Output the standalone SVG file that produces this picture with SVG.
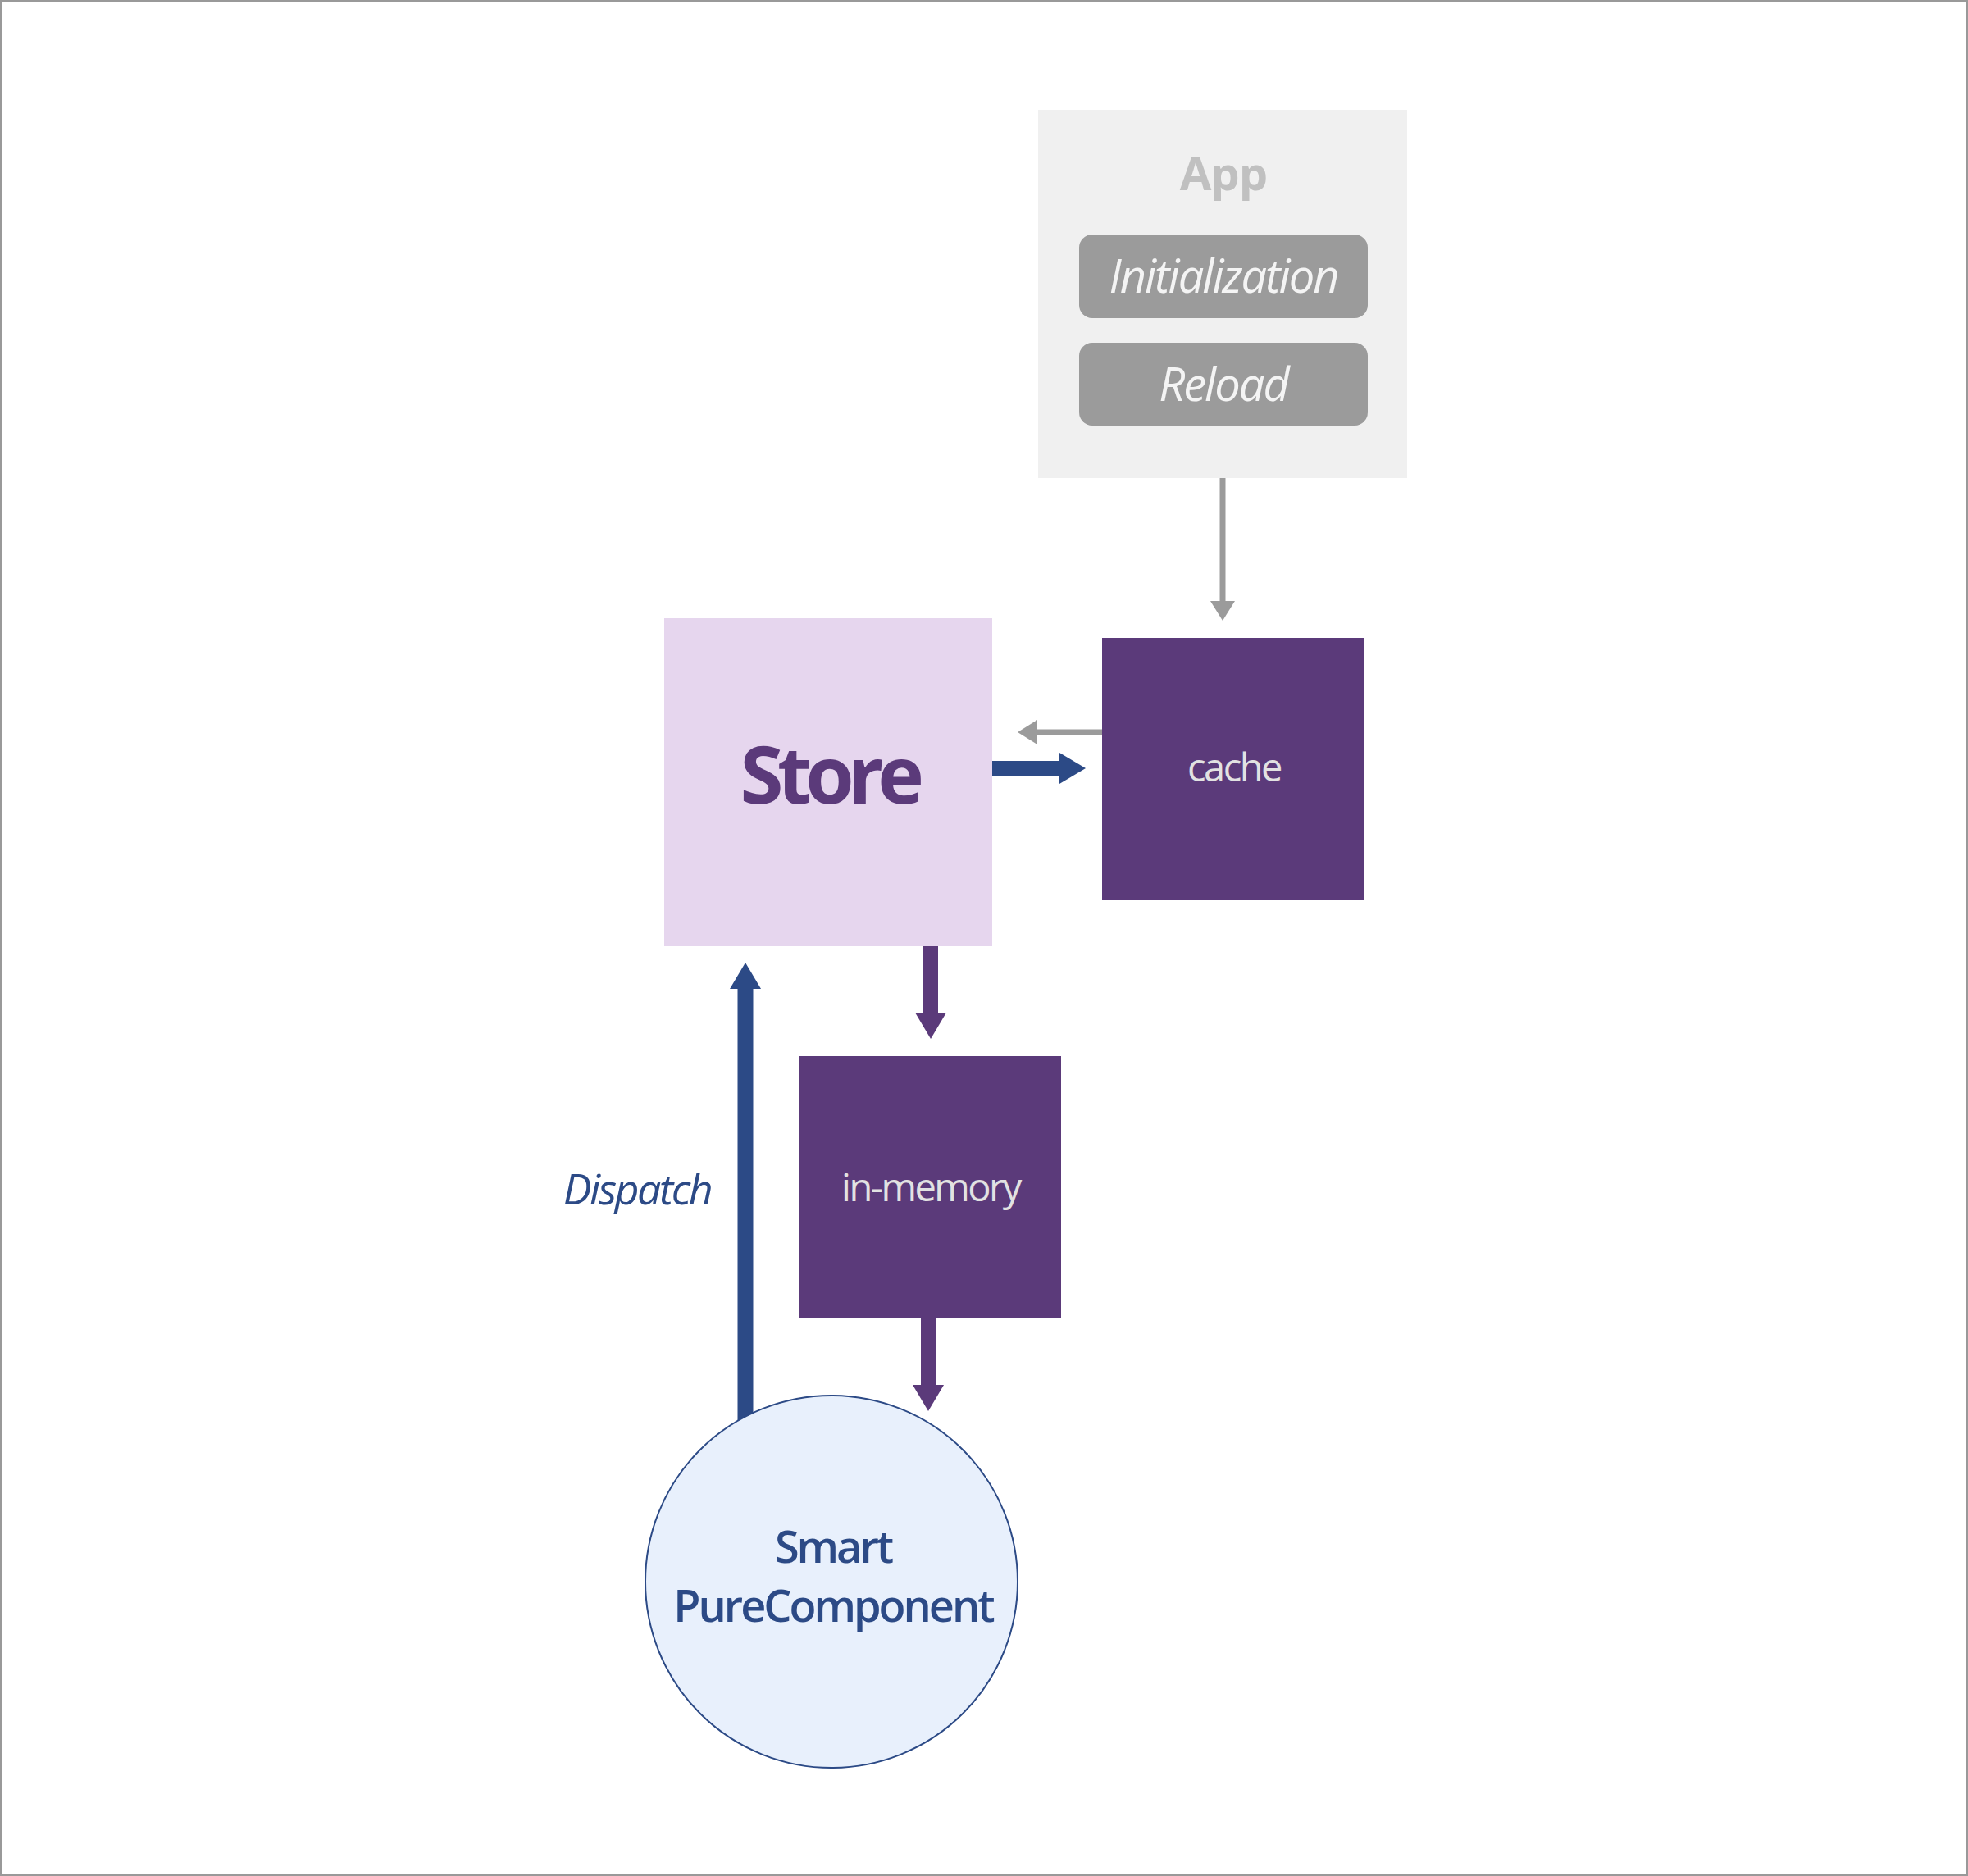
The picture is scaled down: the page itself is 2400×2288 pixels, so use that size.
<svg xmlns="http://www.w3.org/2000/svg" width="2400" height="2288" viewBox="0 0 2400 2288">
<style>
.t{font-family:"Open Sans","Noto Sans","Liberation Sans",sans-serif;text-anchor:middle}
.sub{fill:#9b9b9b}
.subt{font-size:56px;font-style:italic;fill:#f4f4f4;letter-spacing:-2px}
.dark{fill:#5b3a7a}
.darkt{font-size:47px;fill:#e2e2e2;letter-spacing:-2.5px}
.blue{fill:#2c4a86}
</style>
<defs>
<marker id="hb" markerUnits="userSpaceOnUse" markerWidth="33" markerHeight="38" refX="0" refY="19" orient="auto"><path d="M0,0 L32,19 L0,38 z" fill="#2c4a86"/></marker>
<marker id="hp" markerUnits="userSpaceOnUse" markerWidth="33" markerHeight="38" refX="0" refY="19" orient="auto"><path d="M0,0 L32,19 L0,38 z" fill="#5b3a7a"/></marker>
<marker id="hg" markerUnits="userSpaceOnUse" markerWidth="25" markerHeight="30" refX="0" refY="15" orient="auto"><path d="M0,0 L24,15 L0,30 z" fill="#9b9b9b"/></marker>
</defs>
<rect x="1" y="1" width="2398" height="2286" fill="#fff" stroke="#999" stroke-width="2"/>
<g id="connectors" fill="none">
<line x1="1491" y1="583" x2="1491" y2="733" stroke="#9b9b9b" stroke-width="7" marker-end="url(#hg)"/>
<line x1="1344" y1="893" x2="1265" y2="893" stroke="#9b9b9b" stroke-width="7" marker-end="url(#hg)"/>
<line x1="1209" y1="937" x2="1292" y2="937" stroke="#2c4a86" stroke-width="18" marker-end="url(#hb)"/>
<line x1="1135" y1="1153" x2="1135" y2="1235" stroke="#5b3a7a" stroke-width="18" marker-end="url(#hp)"/>
<line x1="1132" y1="1607" x2="1132" y2="1689" stroke="#5b3a7a" stroke-width="18" marker-end="url(#hp)"/>
<line x1="909" y1="1733" x2="909" y2="1206" stroke="#2c4a86" stroke-width="19" marker-end="url(#hb)"/>
<text class="t" x="777" y="1469" font-size="52" font-style="italic" fill="#2c4a86" letter-spacing="-2.5">Dispatch</text>
</g>
<g id="app">
<rect x="1266" y="134" width="450" height="449" fill="#f0f0f0"/>
<text class="t" x="1492" y="232" font-size="56" font-weight="700" fill="#c0c0c0" letter-spacing="-1">App</text>
</g>
<g id="initialization">
<rect class="sub" x="1316" y="286" width="352" height="102" rx="16"/>
<text class="t subt" x="1492" y="357">Initialization</text>
</g>
<g id="reload">
<rect class="sub" x="1316" y="418" width="352" height="101" rx="16"/>
<text class="t subt" x="1492" y="489">Reload</text>
</g>
<g id="store">
<rect x="810" y="754" width="400" height="400" fill="#e6d6ee"/>
<text class="t" x="1011" y="980" font-size="96" font-weight="700" fill="#5b3a7a" letter-spacing="-7.5">Store</text>
</g>
<g id="cache">
<rect class="dark" x="1344" y="778" width="320" height="320"/>
<text class="t darkt" x="1505" y="953">cache</text>
</g>
<g id="in-memory">
<rect class="dark" x="974" y="1288" width="320" height="320"/>
<text class="t darkt" x="1135" y="1465" letter-spacing="-2">in-memory</text>
</g>
<g id="smart-purecomponent">
<circle cx="1014" cy="1929" r="227" fill="#e8f0fc" stroke="#2c4a86" stroke-width="2"/>
<text class="t" font-size="54" font-weight="600" fill="#2c4a86" letter-spacing="-3"><tspan x="1016" y="1906">Smart</tspan><tspan x="1016" y="1978">PureComponent</tspan></text>
</g>
</svg>
